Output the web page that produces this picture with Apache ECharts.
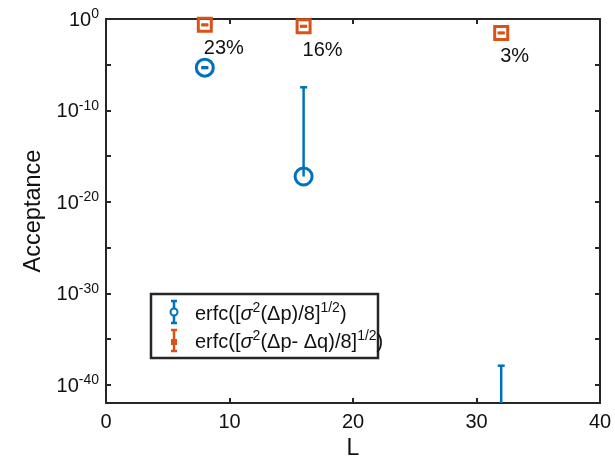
<!DOCTYPE html>
<html><head><meta charset="utf-8">
<script src="https://cdn.jsdelivr.net/npm/echarts@6/dist/echarts.min.js"></script>
<style>html,body{margin:0;padding:0;background:#fff}#c{width:615px;height:458px}</style>
</head><body><div id="c"></div>
<script>
// ---- data ----
const L = [8, 16, 32];
const accP = [4.8e-6, 5.9e-18, 1e-48];           // erfc([σ²(Δp)/8]^1/2)
const accPLow = [4.3e-6, null, null];             // lower end of error bar (null: not drawable on log axis)
const accPHigh = [5.3e-6, 3.4e-8, 1.2e-38];       // upper end of error bar
const accPQ = [0.23, 0.16, 0.03];                 // erfc([σ²(Δp-Δq)/8]^1/2)
const accPQLow = [0.21, 0.147, 0.0275];
const accPQHigh = [0.25, 0.173, 0.0325];
const pctLabels = ['23%', '16%', '3%'];
const xTicks = [0, 10, 20, 30, 40];
const yTickExps = [0, -5, -10, -15, -20, -25, -30, -35, -40];
const yLabelExps = [0, -10, -20, -30, -40];
const legendNames = ['erfc([σ2(Δp)/8]1/2)', 'erfc([σ2(Δp-Δq)/8]1/2)'];

const BLUE = '#0072BD', ORANGE = '#D95319', AX = '#262626';
const lg = v => (v == null || v <= 0) ? null : Math.log10(v);

function errData(vals, lo, hi, labels) {
  return L.map((x, i) => [x, lg(vals[i]), lg(lo[i]), lg(hi[i]), labels ? labels[i] : '']);
}
function errRender(color, lw, capW) {
  return function (params, api) {
    const x = api.value(0), y = api.value(1), lo = api.value(2), hi = api.value(3);
    const pV = api.coord([x, y]);
    const pHi = api.coord([x, hi]);
    const hasLo = lo !== null && isFinite(lo) && !isNaN(lo);
    const pLo = hasLo ? api.coord([x, lo]) : pV;
    const st = { stroke: color, lineWidth: lw };
    const ch = [
      { type: 'line', shape: { x1: pLo[0], y1: pLo[1], x2: pHi[0], y2: pHi[1] }, style: st },
      { type: 'line', shape: { x1: pHi[0] - capW / 2, y1: pHi[1], x2: pHi[0] + capW / 2, y2: pHi[1] }, style: st }
    ];
    if (hasLo) ch.push({ type: 'line', shape: { x1: pLo[0] - capW / 2, y1: pLo[1], x2: pLo[0] + capW / 2, y2: pLo[1] }, style: st });
    return { type: 'group', children: ch };
  };
}
function textRender(params, api) {
  const p = api.coord([api.value(0), api.value(1)]);
  return { type: 'text', x: p[0] - 1, y: p[1] + 24,
    style: { text: api.value(4), fill: '#111', font: '20px "Liberation Sans", Arial, sans-serif', align: 'left', verticalAlign: 'middle' } };
}

const pData = errData(accP, accPLow, accPHigh);
const qData = errData(accPQ, accPQLow, accPQHigh, pctLabels);

const axisCommon = {
  axisLine: { show: true, onZero: false, lineStyle: { color: AX, width: 2 } },
  axisTick: { show: true, inside: true, length: 5, lineStyle: { color: AX, width: 2 } },
  splitLine: { show: false }
};
const FONT = '"Liberation Sans", Arial, sans-serif';
const legRich = {
  t: { fontSize: 20, fontFamily: FONT, fill: '#111', verticalAlign: 'bottom' },
  i: { fontSize: 20, fontFamily: FONT, fontStyle: 'italic', fill: '#111', verticalAlign: 'bottom' },
  sp: { fontSize: 14, fontFamily: FONT, fill: '#111', verticalAlign: 'bottom', padding: [0, 0, 9, 0] }
};

const chart = echarts.init(document.getElementById('c'), null, { renderer: 'canvas' });
chart.setOption({
  animation: false,
  backgroundColor: '#fff',
  grid: { left: 106, right: 15, top: 19, bottom: 55, containLabel: false, outerBoundsMode: 'none' },
  xAxis: [
    Object.assign({}, axisCommon, {
      type: 'value', min: 0, max: 40, interval: 10, position: 'bottom',
      axisLabel: { fontSize: 20, color: '#111', fontFamily: FONT, margin: 9,
        customValues: xTicks },
      axisTick: Object.assign({}, axisCommon.axisTick, { customValues: xTicks }),
      name: 'L', nameLocation: 'middle', nameGap: 33,
      nameTextStyle: { fontSize: 23, color: '#111', fontFamily: FONT }
    }),
    Object.assign({}, axisCommon, {
      type: 'value', min: 0, max: 40, interval: 10, position: 'top',
      axisLabel: { show: false },
      axisTick: Object.assign({}, axisCommon.axisTick, { customValues: xTicks })
    })
  ],
  yAxis: [
    Object.assign({}, axisCommon, {
      type: 'value', min: -42, max: 0, position: 'left',
      axisTick: Object.assign({}, axisCommon.axisTick, { customValues: yTickExps }),
      axisLabel: {
        customValues: yLabelExps, margin: 7, color: '#111', fontFamily: FONT,
        formatter: v => '{b|10}{s|' + (v === 0 ? '0' : '-' + Math.abs(v)) + '}',
        rich: {
          b: { fontSize: 20, fontFamily: FONT, color: '#111', verticalAlign: 'bottom' },
          s: { fontSize: 14, fontFamily: FONT, color: '#111', verticalAlign: 'bottom', padding: [0, 0, 9, 0] }
        }
      },
      name: 'Acceptance', nameLocation: 'middle', nameGap: 57,
      nameTextStyle: { fontSize: 23.5, color: '#111', fontFamily: FONT }
    }),
    Object.assign({}, axisCommon, {
      type: 'value', min: -42, max: 0, position: 'right',
      axisTick: Object.assign({}, axisCommon.axisTick, { customValues: yTickExps }),
      axisLabel: { show: false }
    })
  ],
  series: [
    { type: 'custom', name: legendNames[0], clip: true, renderItem: errRender(BLUE, 2.5, 7), data: pData, z: 3 },
    { type: 'scatter', name: legendNames[0] + ' m', clip: true, data: pData.map(d => [d[0], d[1]]),
      symbol: 'circle', symbolSize: 17,
      itemStyle: { color: 'rgba(0,0,0,0)', borderColor: BLUE, borderWidth: 3, opacity: 1 }, z: 4 },
    { type: 'custom', name: legendNames[1], clip: true, renderItem: errRender(ORANGE, 2.5, 7), data: qData, z: 3 },
    { type: 'scatter', name: legendNames[1] + ' m', clip: true, data: qData.map(d => [d[0], d[1]]),
      symbol: 'rect', symbolSize: 13,
      itemStyle: { color: 'rgba(0,0,0,0)', borderColor: ORANGE, borderWidth: 3, opacity: 1 }, z: 4 },
    { type: 'custom', name: 'pct', clip: false, renderItem: textRender, data: qData, z: 5 }
  ],
  graphic: [
    { type: 'rect', z: 100, shape: { x: 151, y: 294, width: 227, height: 64 },
      style: { fill: '#fff', stroke: AX, lineWidth: 2.5 } },
    // blue legend icon
    { type: 'line', z: 101, shape: { x1: 174, y1: 301, x2: 174, y2: 323 }, style: { stroke: BLUE, lineWidth: 2.5 } },
    { type: 'line', z: 101, shape: { x1: 171, y1: 301, x2: 177, y2: 301 }, style: { stroke: BLUE, lineWidth: 2.5 } },
    { type: 'line', z: 101, shape: { x1: 171, y1: 323, x2: 177, y2: 323 }, style: { stroke: BLUE, lineWidth: 2.5 } },
    { type: 'circle', z: 102, shape: { cx: 174, cy: 312, r: 3.5 }, style: { fill: '#fff', stroke: BLUE, lineWidth: 2 } },
    // orange legend icon
    { type: 'line', z: 101, shape: { x1: 174, y1: 330, x2: 174, y2: 351 }, style: { stroke: ORANGE, lineWidth: 2.5 } },
    { type: 'line', z: 101, shape: { x1: 171, y1: 330, x2: 177, y2: 330 }, style: { stroke: ORANGE, lineWidth: 2.5 } },
    { type: 'line', z: 101, shape: { x1: 171, y1: 351, x2: 177, y2: 351 }, style: { stroke: ORANGE, lineWidth: 2.5 } },
    { type: 'rect', z: 102, shape: { x: 171, y: 339, width: 6, height: 6 }, style: { fill: ORANGE } },
    { type: 'text', z: 103, x: 195, y: 313, style: {
        text: '{t|erfc([}{i|σ}{sp|2}{t|(Δp)/8]}{sp|1/2}{t|)}',
        verticalAlign: 'middle', align: 'left', rich: legRich } },
    { type: 'text', z: 103, x: 195, y: 341, style: {
        text: '{t|erfc([}{i|σ}{sp|2}{t|(Δp- Δq)/8]}{sp|1/2}{t|)}',
        verticalAlign: 'middle', align: 'left', rich: legRich } }
  ]
});
</script></body></html>
